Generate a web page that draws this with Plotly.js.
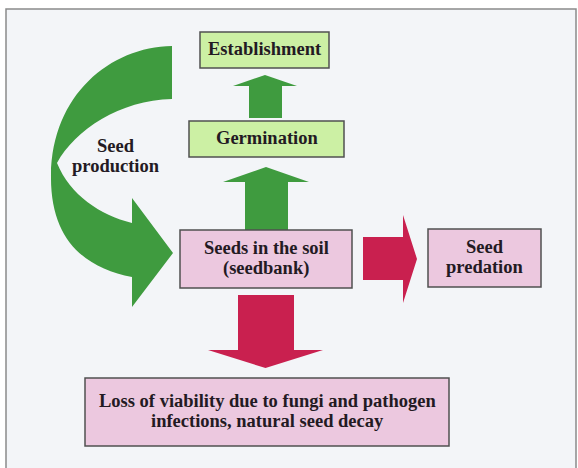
<!DOCTYPE html>
<html>
<head>
<meta charset="utf-8">
<script src="https://cdn.plot.ly/plotly-3.0.1.min.js"></script>
<style>html,body{margin:0;padding:0;background:#fff;}#chart{width:578px;height:468px;}</style>
</head>
<body>
<div id="chart"></div>
<script>
// ---- data (labels of the life-cycle diagram) ----
const stageNames = ['Establishment', 'Germination', 'Seeds in the soil<br>(seedbank)', 'Seed<br>predation',
  'Loss of viability due to fungi and pathogen<br>infections, natural seed decay'];
const stageKinds = ['growth', 'growth', 'bank', 'loss', 'loss'];
const flowFrom = ['Germination', 'Seeds in the soil<br>(seedbank)', 'Seeds in the soil<br>(seedbank)', 'Seeds in the soil<br>(seedbank)'];
const flowTo = ['Establishment', 'Germination', 'Seed<br>predation', 'Loss of viability due to fungi and pathogen<br>infections, natural seed decay'];
const cycleLabel = 'Seed<br>production';

// ---- layout geometry (pixel-like data coordinates) ----
const boxGeom = [
  {x0: 200, x1: 329, y0: 32, y1: 68},
  {x0: 189, x1: 344, y0: 121, y1: 157},
  {x0: 180, x1: 352, y0: 230, y1: 288},
  {x0: 428, x1: 541, y0: 229, y1: 287},
  {x0: 85, x1: 449, y0: 378, y1: 446}
];
const arrowGeom = [
  {dir: 'up', s0: 249, s1: 282, tail: 118, base: 86, h0: 233, h1: 297, tip: 75},
  {dir: 'up', s0: 245, s1: 288, tail: 230, base: 182, h0: 223, h1: 309, tip: 167},
  {dir: 'right', s0: 237, s1: 280, tail: 363, base: 403, h0: 215, h1: 303, tip: 417},
  {dir: 'down', s0: 238, s1: 294, tail: 295, base: 350, h0: 208, h1: 323, tip: 368}
];
const kindFill = {growth: '#ccf0a4', bank: '#ecc8df', loss: '#ecc8df'};
const kindArrow = {growth: '#3f9b3f', bank: '#3f9b3f', loss: '#c9204f'};
const txtColor = '#231a23';
const font = '"Liberation Serif", "DejaVu Serif", serif';
const fontSize = 18.5;
const lineGap = 20.5;

const shapes = [];
const annotations = [];

// frame
shapes.push({type: 'rect', x0: 6, x1: 576, y0: 9, y1: 480, line: {color: '#8a8a8a', width: 1.5}, fillcolor: '#f3f5f8', layer: 'below'});

function arrowPath(g) {
  const mid = (g.h0 + g.h1) / 2;
  if (g.dir === 'up' || g.dir === 'down') {
    return `M ${g.s0},${g.tail} L ${g.s0},${g.base} L ${g.h0},${g.base} L ${mid},${g.tip} L ${g.h1},${g.base} L ${g.s1},${g.base} L ${g.s1},${g.tail} Z`;
  }
  return `M ${g.tail},${g.s0} L ${g.base},${g.s0} L ${g.base},${g.h0} L ${g.tip},${mid} L ${g.base},${g.h1} L ${g.base},${g.s1} L ${g.tail},${g.s1} Z`;
}

function addLabel(text, cx, cy) {
  const lines = text.split('<br>');
  lines.forEach((ln, k) => {
    const y = cy + (k - (lines.length - 1) / 2) * lineGap;
    annotations.push({x: cx, y: y, xref: 'x', yref: 'y', text: ln, showarrow: false,
      xanchor: 'center', yanchor: 'middle', align: 'center',
      font: {family: font, size: fontSize, color: txtColor, weight: 'bold'}});
  });
}

// flow arrows
flowFrom.forEach((f, i) => {
  const kind = stageKinds[stageNames.indexOf(flowTo[i])];
  shapes.push({type: 'path', path: arrowPath(arrowGeom[i]), fillcolor: kindArrow[kind], line: {width: 0}});
});

// curved "seed production" arrow
const curve = 'M 172,46 C 110,47 52,95 51,175 C 50,240 85,268 132,277 L 132,307 L 173,253 L 132,198 L 132,223 ' +
  'C 100,215 70,195 57,163 C 75,130 120,100 172,99 Z';
shapes.push({type: 'path', path: curve, fillcolor: kindArrow.growth, line: {width: 0}});

// boxes and labels
stageNames.forEach((name, i) => {
  const g = boxGeom[i];
  shapes.push({type: 'rect', x0: g.x0, x1: g.x1, y0: g.y0, y1: g.y1, fillcolor: kindFill[stageKinds[i]], line: {color: '#505050', width: 1.5}});
  addLabel(name, (g.x0 + g.x1) / 2, (g.y0 + g.y1) / 2 - 1);
});
addLabel(cycleLabel, 116, 156);

Plotly.newPlot('chart', [], {
  width: 578, height: 468,
  margin: {l: 0, r: 0, t: 0, b: 0},
  paper_bgcolor: '#ffffff', plot_bgcolor: '#ffffff',
  xaxis: {range: [0, 578], visible: false, fixedrange: true},
  yaxis: {range: [468, 0], visible: false, fixedrange: true},
  shapes: shapes,
  annotations: annotations,
  showlegend: false
}, {displayModeBar: false, staticPlot: true});
</script>
</body>
</html>
